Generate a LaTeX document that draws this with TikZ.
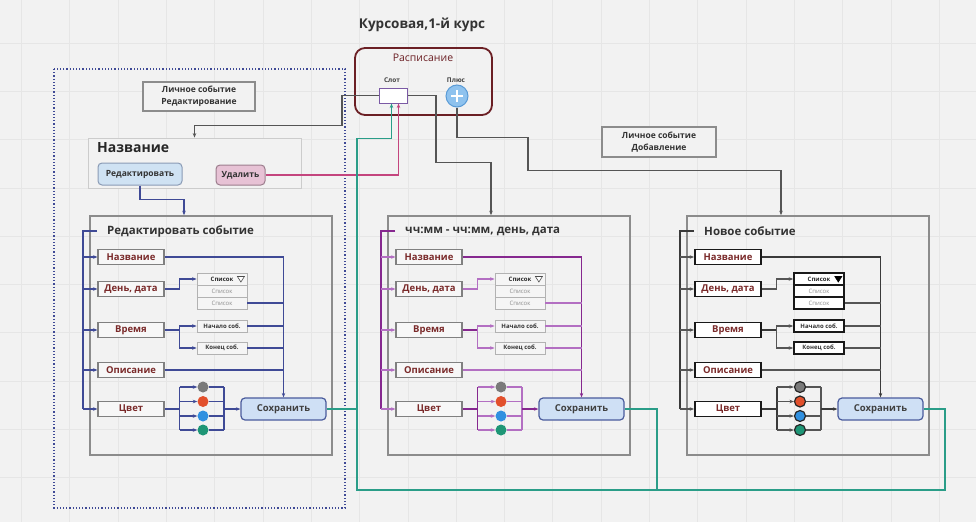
\documentclass[tikz,border=0pt]{standalone}
\usepackage{fontspec}
\setmainfont{Open Sans}
\usetikzlibrary{arrows.meta,calc}

\definecolor{bgc}{HTML}{F2F2F2}
\definecolor{gridc}{HTML}{E6E6E6}
\definecolor{navyc}{HTML}{3F4A96}
\definecolor{purpc}{HTML}{86288F}
\definecolor{lpurpc}{HTML}{B36FC2}
\definecolor{darkc}{HTML}{3A3A3A}
\definecolor{greyc}{HTML}{555555}
\definecolor{tealc}{HTML}{2A9D88}
\definecolor{pinkc}{HTML}{C4457E}
\definecolor{raspc}{HTML}{6B1F24}
\definecolor{slotc}{HTML}{7B5AA5}
\definecolor{itemtxt}{HTML}{7A2A2A}
\definecolor{savefill}{HTML}{CFE0F5}
\definecolor{saveline}{HTML}{4A5B9C}
\definecolor{editfill}{HTML}{CFE2F3}
\definecolor{editline}{HTML}{8A9BB5}
\definecolor{delfill}{HTML}{E7C2D5}
\definecolor{delline}{HTML}{9C7D8D}
\definecolor{plusfill}{HTML}{8EC2EE}
\definecolor{plusline}{HTML}{5A9BD6}
\definecolor{dotgrey}{HTML}{7A7A7A}
\definecolor{dotred}{HTML}{E2502C}
\definecolor{dotblue}{HTML}{3090E0}
\definecolor{dotgreen}{HTML}{1E9676}

\tikzset{
  arr/.style={-{Stealth[length=4.5pt,width=3.5pt]}},
  mainln/.style={line width=1.6pt},
  subln/.style={line width=1.1pt},
  link/.style={line width=1.2pt,draw=greyc},
  panelbox/.style={draw=black!45,line width=1.6pt,minimum width=242,minimum height=239,inner sep=0},
  paneltitle/.style={font=\bfseries\fontsize{11.5}{13}\selectfont,text=black!80,inner sep=0,anchor=west},
  itemA/.style={draw=black!50,line width=1.1pt,fill=black!3,minimum width=66,minimum height=15,inner sep=0,
    font=\bfseries\fontsize{9.5}{10}\selectfont,text=itemtxt},
  itemB/.style={itemA,draw=black!90,line width=1.8pt,fill=white},
  listA/.style={draw=black!30,line width=.8pt,fill=black!4,minimum width=50,minimum height=12,inner sep=0,
    font=\fontsize{6}{7}\selectfont,text=black!45},
  listB/.style={listA,draw=black!90,line width=1.6pt,fill=white},
  triA/.style={draw=black!70,line width=.6pt,fill=white},
  triB/.style={draw=black,line width=.6pt,fill=black},
  dotA/.style={circle,minimum size=11,inner sep=0},
  dotB/.style={dotA,draw=black!85,line width=1.2pt},
  savebtn/.style={draw=saveline,line width=1.2pt,fill=savefill,rounded corners=4pt,minimum width=85,minimum height=22,
    font=\bfseries\fontsize{9.5}{10}\selectfont,text=black!75},
  note/.style={draw=black!45,line width=1.1pt,fill=bgc,align=center,inner sep=0,
    font=\bfseries\fontsize{8.5}{12.5}\selectfont,text=black!80},
  btn/.style={rounded corners=4pt,line width=1pt,inner sep=0,font=\bfseries\fontsize{8.5}{9}\selectfont,text=black!80},
}

% one event form: prefix, x offset, title, main colour, sub colour, look (A/B)
\newcommand{\eventpanel}[6]{%
\begin{scope}[shift={(#2,0)}]
\node[panelbox] (#1box) at (211,335.5) {};
\node[paneltitle] (#1title) at (107,231) {#3};
\coordinate (#1bt) at (83,231);
\coordinate (#1bb) at (83,409);
\node[item#6] (#1name) at (131,257) {Название};
\node[item#6] (#1date) at (131,289) {День, дата};
\node[item#6] (#1time) at (131,330) {Время};
\node[item#6] (#1desc) at (131,370) {Описание};
\node[item#6] (#1color) at (131,409) {Цвет};
\node[list#6,font=\bfseries\fontsize{6}{7}\selectfont,text=black!85] (#1list1) at (222,279) {Список\hspace{6pt}};
\node[list#6] (#1list2) at (222,291) {Список};
\node[list#6] (#1list3) at (222,303) {Список};
\draw[tri#6] ([xshift=-10pt,yshift=2.5pt]#1list1.east) -- ++(7,0) -- ++(-3.5,5.5) -- cycle;
\node[list#6,font=\bfseries\fontsize{6}{7}\selectfont,text=black!80] (#1start) at (222,326) {Начало соб.};
\node[list#6,font=\bfseries\fontsize{6}{7}\selectfont,text=black!80] (#1end) at (222,348) {Конец соб.};
\node[savebtn] (#1save) at (283.5,409) {Сохранить};
\node[dot#6,fill=dotgrey] (#1c1) at (203,387) {};
\node[dot#6,fill=dotred] (#1c2) at (203,401.5) {};
\node[dot#6,fill=dotblue] (#1c3) at (203,416) {};
\node[dot#6,fill=dotgreen] (#1c4) at (203,430) {};
\coordinate (#1mg) at (224,409);
% bus to every field
\draw[mainln,#4] ([xshift=-10pt]#1title.west) -- (#1bt) -- (#1bb);
\foreach \n in {name,date,time,desc,color}
  \draw[subln,#5,arr] (#1bt |- #1\n.west) -- (#1\n.west);
% fields to save
\draw[mainln,#4,arr] (#1name.east) -| (#1save.north);
\draw[subln,#5,arr] (#1date.east) -- ++(15,0) |- (#1list1.west);
\draw[mainln,#4] (#1time.east) -- ++(15,0) coordinate (#1tf);
\draw[subln,#5,arr] (#1tf) |- (#1start.west);
\draw[subln,#5,arr] (#1tf) |- (#1end.west);
\foreach \n in {list3,start,end,desc}
  \draw[subln,#5] (#1\n.east) -- (#1\n.east -| #1save.north);
% colour choice
\draw[mainln,#4] (#1color.east) -- ++(15,0) coordinate (#1cf);
\draw[mainln,#4] (#1cf |- #1c1) -- (#1cf |- #1c4);
\foreach \i in {1,...,4} {
  \draw[subln,#5,arr] (#1cf |- #1c\i) -- (#1c\i.west);
  \draw[subln,#5] (#1c\i.east) -- (#1mg |- #1c\i);
}
\draw[subln,#5] (#1mg |- #1c1) -- (#1mg |- #1c4);
\draw[mainln,#4,arr] (#1mg) -- (#1save.west);
\end{scope}
}

\begin{document}
\begin{tikzpicture}[x=1pt,y=-1pt]
\useasboundingbox[fill=bgc] (0,0) rectangle (976,522);
\foreach \gx in {0,...,19}
  \draw[gridc,line width=.8pt] ({21.5+48.3*\gx},0) -- ++(0,522);
\foreach \gy in {0,...,10}
  \draw[gridc,line width=.8pt] (0,{43+48.3*\gy}) -- ++(976,0);

\node[font=\bfseries\fontsize{13.5}{15}\selectfont,text=black!80] (title) at (422,25) {Курсовая,1-й курс};

% edit area
\draw[navyc,dotted,line width=1.2pt] (54,69) rectangle (345,508);
\node[note,minimum width=112,minimum height=29] (noteedit) at (199,96.5) {Личное событие\\Редактирование};
\node[note,minimum width=114,minimum height=30] (noteadd) at (659,142) {Личное событие\\Добавление};

\node[draw=black!20,line width=.8pt,fill=bgc,minimum width=213,minimum height=50] (head) at (194.5,163) {};
\node[font=\bfseries\fontsize{14}{16}\selectfont,text=black!85,anchor=west,inner sep=0] (headtxt) at (97,148) {Название};
\node[btn,fill=editfill,draw=editline,minimum width=84,minimum height=22] (edit) at (140,174) {Редактировать};
\node[btn,fill=delfill,draw=delline,minimum width=49,minimum height=20] (del) at (240.5,175) {Удалить};

% schedule
\node[draw=raspc,line width=1.8pt,rounded corners=10pt,minimum width=137,minimum height=67] (rasp) at (423.5,81.5) {};
\node[font=\fontsize{10.5}{12}\selectfont,text=raspc] (rasptxt) at (423,58) {Расписание};
\node[font=\bfseries\fontsize{6.5}{7}\selectfont,text=black!75] (slotlbl) at (392,80) {Слот};
\node[font=\bfseries\fontsize{6.5}{7}\selectfont,text=black!75] (pluslbl) at (456,80) {Плюс};
\node[draw=slotc,line width=1pt,fill=white,minimum width=28,minimum height=15,inner sep=0] (slot) at (393.5,95.5) {};
\node[circle,fill=plusfill,draw=plusline,line width=1pt,minimum size=22,inner sep=0] (plus) at (457,96) {};
\draw[white,line width=2.6pt] ([xshift=-6pt]plus.center) -- ([xshift=6pt]plus.center);
\draw[white,line width=2.6pt] ([yshift=-6pt]plus.center) -- ([yshift=6pt]plus.center);

% three forms
\eventpanel{L}{0}{Редактировать событие}{navyc}{navyc}{A}
\eventpanel{M}{298}{чч:мм - чч:мм, день, дата}{purpc}{lpurpc}{A}
\eventpanel{R}{597}{Новое событие}{darkc}{greyc}{B}

% links
\draw[link,arr] (slot.west) -- ++(-37,0) |- ([yshift=12pt]head.north) -- (head.north);
\draw[link,arr] (slot.east) -- ++(28,0) -- ++(0,67) -| ([xshift=-18pt]Mbox.north);
\draw[link,arr] (plus.south) -- ++(0,30) -| ++(71,33) -| ([xshift=-27pt]Rbox.north);
\draw[navyc,mainln,arr] (edit.south) -- ++(0,14) -| ([xshift=-27pt]Lbox.north);
\draw[pinkc,line width=1.9pt,arr] (del.east) -| ([xshift=5pt]slot.south);

\coordinate (tb) at (357,490);
\draw[tealc,line width=1.9pt,arr] (Rsave.east) -- ++(21,0) |- (tb) |- ([xshift=-2pt,yshift=-35pt]slot.south) -- ([xshift=-2pt]slot.south);
\draw[tealc,line width=1.9pt] (Lsave.east) -- (Lsave.east -| tb);
\draw[tealc,line width=1.9pt] (Msave.east) -- ++(32,0) |- (tb);
\end{tikzpicture}
\end{document}
